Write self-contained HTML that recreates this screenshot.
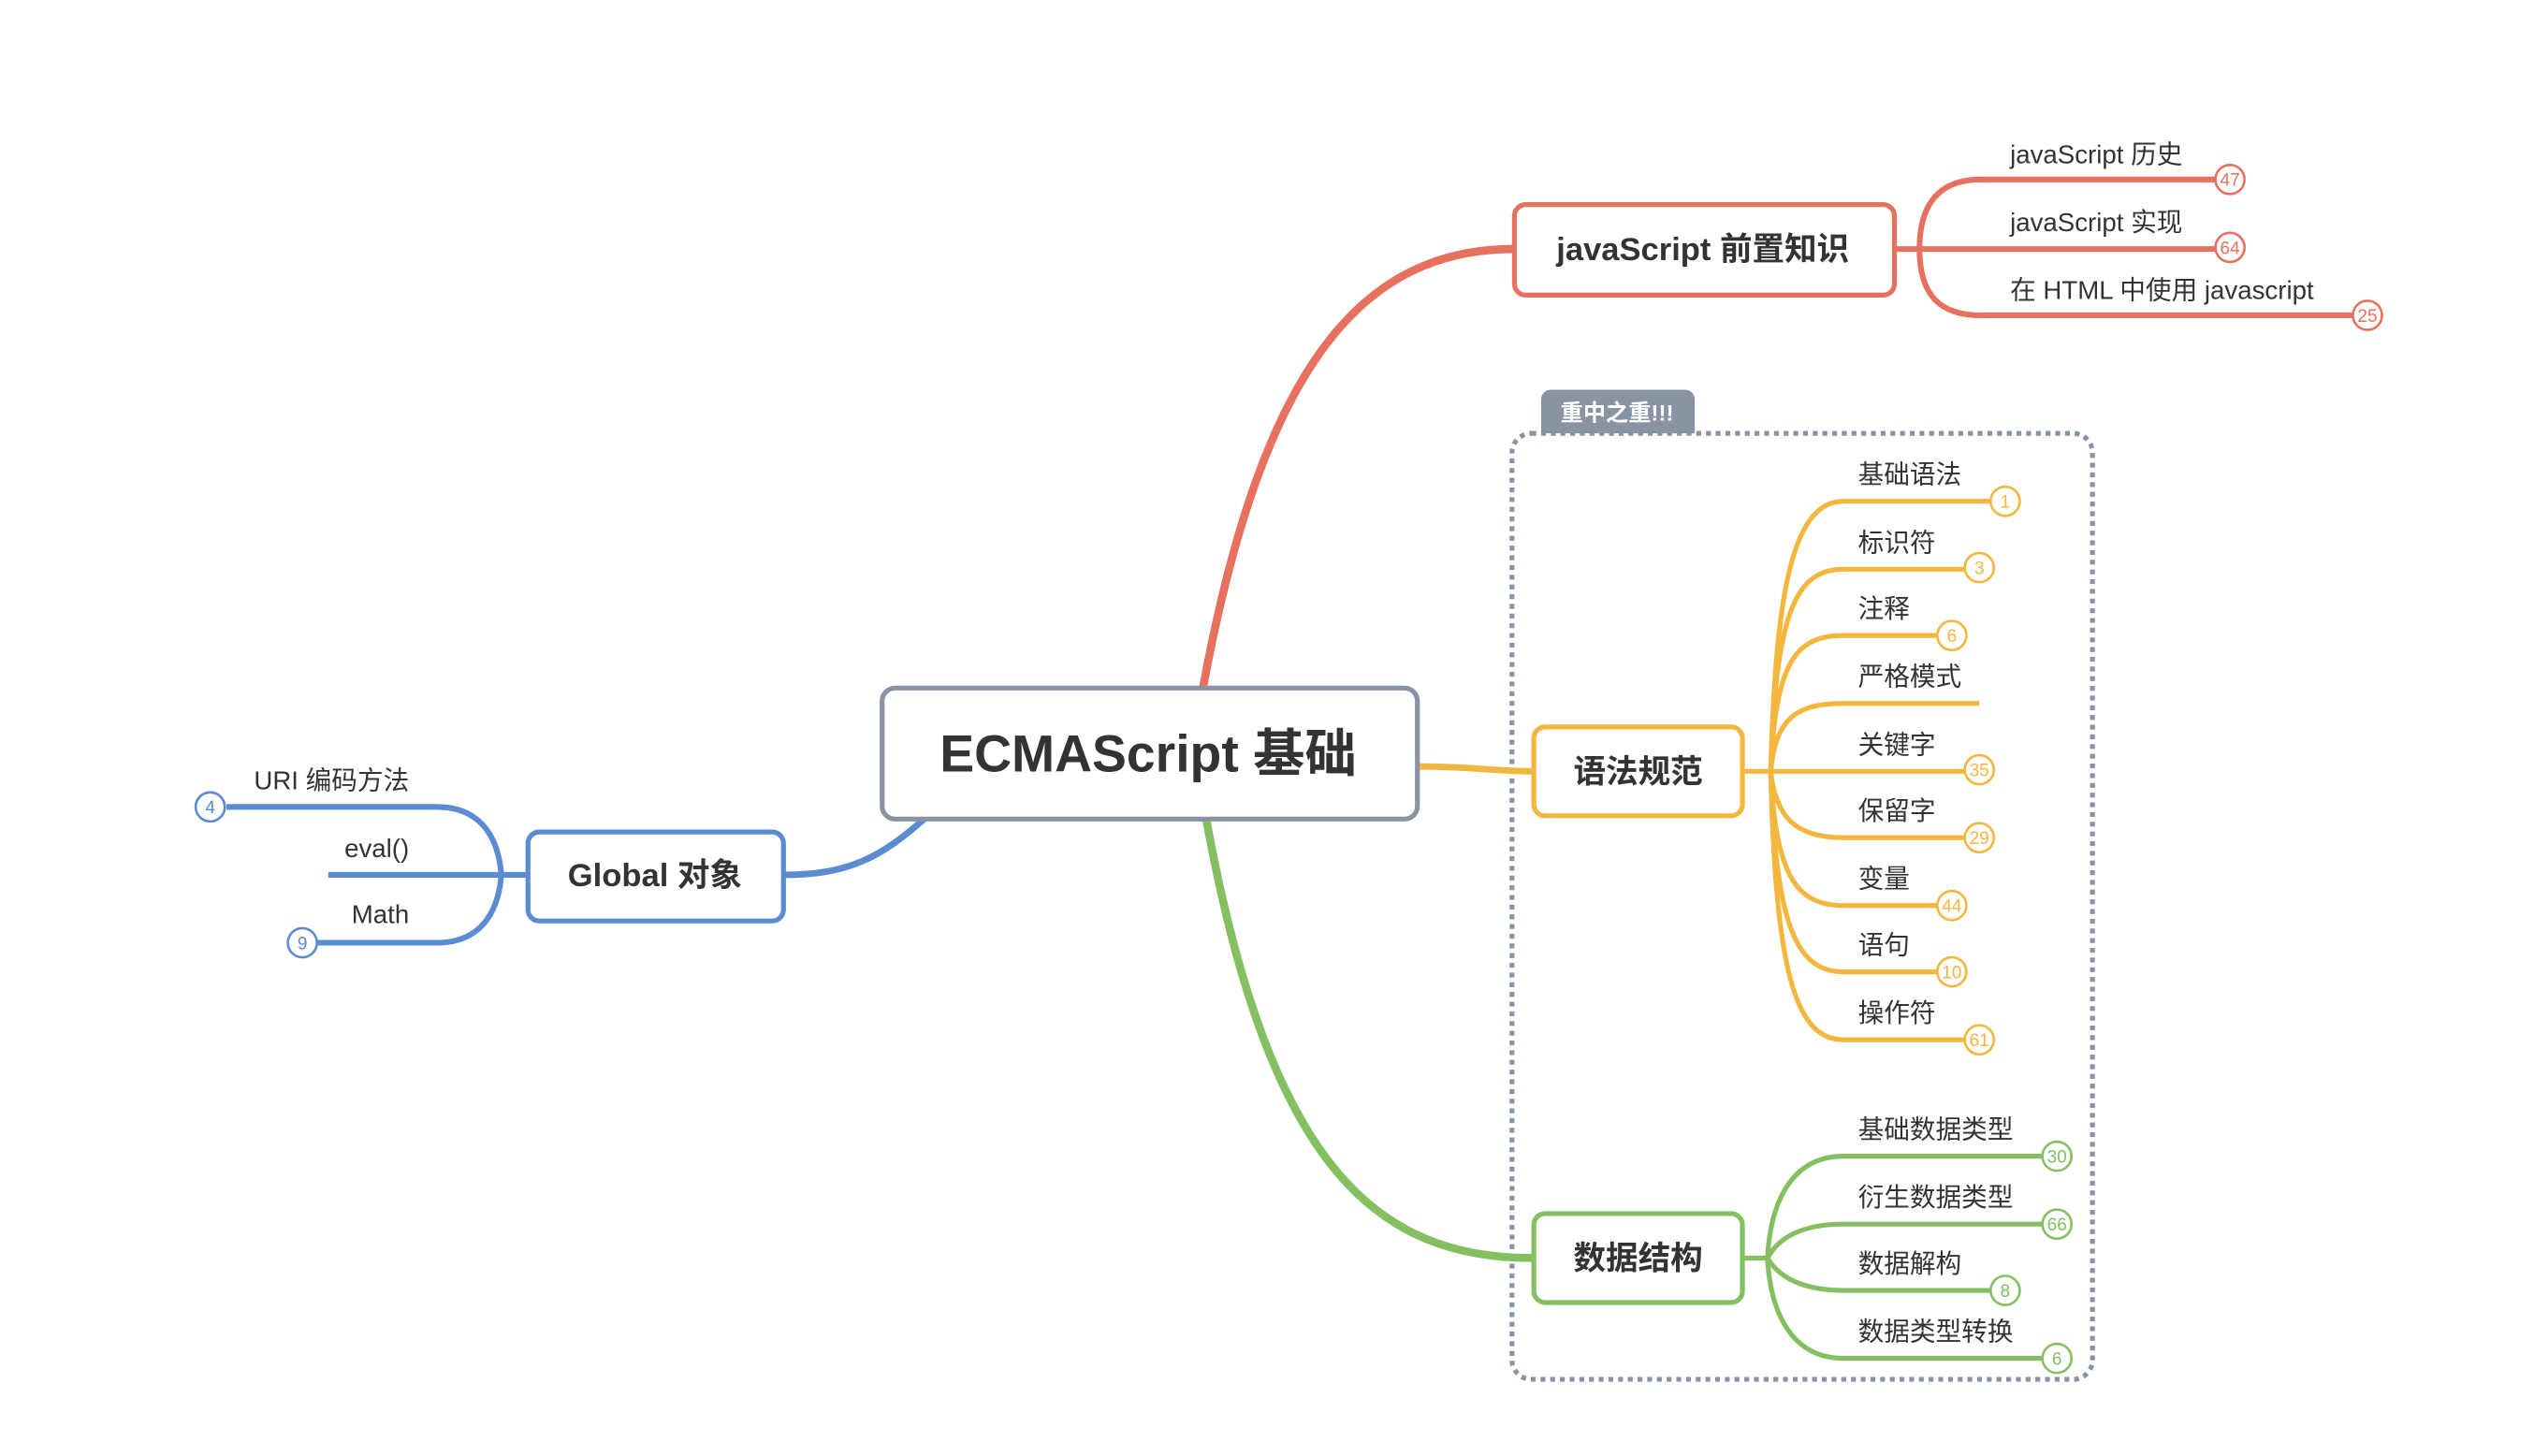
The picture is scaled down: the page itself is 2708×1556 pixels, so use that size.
<!DOCTYPE html>
<html><head><meta charset="utf-8"><style>
html,body{margin:0;padding:0;background:#fff;}
svg{display:block;}
text{font-family:"Liberation Sans","Noto Sans CJK SC",sans-serif;fill:#333;}
.n{font-size:11px;text-anchor:middle;}
.l{font-size:16px;}
</style></head><body>
<svg width="2708" height="1556" viewBox="0 0 1567 900.4" preserveAspectRatio="none" xmlns="http://www.w3.org/2000/svg">
<rect width="1567" height="900.4" fill="#fff"/>
<!-- dotted group -->
<rect x="935" y="268" width="359" height="585" rx="12" fill="none" stroke="#8a93a4" stroke-width="3" stroke-dasharray="3,3"/>
<path d="M953,268 V247 a6,6 0 0 1 6,-6 H1042 a6,6 0 0 1 6,6 V268 Z" fill="#8a93a4"/>
<text x="1000" y="260" style="font-size:14px;font-weight:bold;fill:#fff;text-anchor:middle">重中之重!!!</text>

<!-- main connectors -->
<path d="M744,425 C780,230 840,154 936,154" fill="none" stroke="#e8705f" stroke-width="5"/>
<path d="M877,474 C910,474 925,477 948,477" fill="none" stroke="#f3b73f" stroke-width="4"/>
<path d="M746,507 C785,720 850,778 948,778" fill="none" stroke="#84c062" stroke-width="5"/>
<path d="M572,506 C545,530 525,541 485,541" fill="none" stroke="#5b8bd0" stroke-width="4"/>

<!-- JS branch -->
<g fill="none" stroke="#e8705f" stroke-width="3.5">
<path d="M1172,154 H1187"/>
<path d="M1187,154 C1187,125 1200,111 1225,111 H1370"/>
<path d="M1187,154 H1370"/>
<path d="M1187,154 C1187,183 1200,195 1225,195 H1455"/>
</g>
<g fill="#fff" stroke="#e8705f" stroke-width="1.5">
<circle cx="1379" cy="111" r="9"/><circle cx="1379" cy="153" r="9"/><circle cx="1464" cy="195" r="9"/>
</g>
<text class="n" x="1379" y="115" style="fill:#e8705f">47</text><text class="n" x="1379" y="157" style="fill:#e8705f">64</text><text class="n" x="1464" y="199" style="fill:#e8705f">25</text>
<text class="l" x="1243" y="101">javaScript 历史</text>
<text class="l" x="1243" y="143">javaScript 实现</text>
<text class="l" x="1243" y="185">在 HTML 中使用 javascript</text>

<!-- syntax branch -->
<g fill="none" stroke="#f3b73f" stroke-width="3">
<path d="M1078,477 H1095"/>
<path d="M1095,477 C1098,360 1110,310 1140,310 H1231"/>
<path d="M1095,477 C1098,380 1110,352 1140,352 H1215"/>
<path d="M1095,477 C1098,410 1110,393 1140,393 H1198"/>
<path d="M1095,477 C1098,445 1110,435 1140,435 H1224"/>
<path d="M1095,477 H1215"/>
<path d="M1095,477 C1098,505 1110,518 1140,518 H1215"/>
<path d="M1095,477 C1098,540 1110,560 1140,560 H1198"/>
<path d="M1095,477 C1098,570 1110,601 1140,601 H1198"/>
<path d="M1095,477 C1098,600 1110,643 1140,643 H1215"/>
</g>
<g fill="#fff" stroke="#f3b73f" stroke-width="1.5">
<circle cx="1240" cy="310" r="9"/><circle cx="1224" cy="351" r="9"/><circle cx="1207" cy="393" r="9"/>
<circle cx="1224" cy="476" r="9"/><circle cx="1224" cy="518" r="9"/><circle cx="1207" cy="560" r="9"/>
<circle cx="1207" cy="601" r="9"/><circle cx="1224" cy="643" r="9"/>
</g>
<text class="n" x="1240" y="314" style="fill:#f3b73f">1</text>
<text class="n" x="1224" y="355" style="fill:#f3b73f">3</text>
<text class="n" x="1207" y="397" style="fill:#f3b73f">6</text>
<text class="n" x="1224" y="480" style="fill:#f3b73f">35</text>
<text class="n" x="1224" y="522" style="fill:#f3b73f">29</text>
<text class="n" x="1207" y="564" style="fill:#f3b73f">44</text>
<text class="n" x="1207" y="605" style="fill:#f3b73f">10</text>
<text class="n" x="1224" y="647" style="fill:#f3b73f">61</text>
<text class="l" x="1149" y="299">基础语法</text>
<text class="l" x="1149" y="341">标识符</text>
<text class="l" x="1149" y="382">注释</text>
<text class="l" x="1149" y="424">严格模式</text>
<text class="l" x="1149" y="466">关键字</text>
<text class="l" x="1149" y="507">保留字</text>
<text class="l" x="1149" y="549">变量</text>
<text class="l" x="1149" y="590">语句</text>
<text class="l" x="1149" y="632">操作符</text>

<!-- data branch -->
<g fill="none" stroke="#84c062" stroke-width="3">
<path d="M1078,778 H1093"/>
<path d="M1093,778 C1095,740 1110,715 1140,715 H1263"/>
<path d="M1093,778 C1100,765 1115,757 1140,757 H1263"/>
<path d="M1093,778 C1100,790 1115,798 1140,798 H1231"/>
<path d="M1093,778 C1095,815 1110,840 1140,840 H1263"/>
</g>
<g fill="#fff" stroke="#84c062" stroke-width="1.5">
<circle cx="1272" cy="715" r="9"/><circle cx="1272" cy="757" r="9"/><circle cx="1240" cy="798" r="9"/><circle cx="1272" cy="840" r="9"/>
</g>
<text class="n" x="1272" y="719" style="fill:#84c062">30</text>
<text class="n" x="1272" y="761" style="fill:#84c062">66</text>
<text class="n" x="1240" y="802" style="fill:#84c062">8</text>
<text class="n" x="1272" y="844" style="fill:#84c062">6</text>
<text class="l" x="1149" y="704">基础数据类型</text>
<text class="l" x="1149" y="746">衍生数据类型</text>
<text class="l" x="1149" y="787">数据解构</text>
<text class="l" x="1149" y="829">数据类型转换</text>

<!-- global branch -->
<g fill="none" stroke="#5b8bd0" stroke-width="3.5">
<path d="M326,541 H310"/>
<path d="M310,541 C308,515 295,499 270,499 H140"/>
<path d="M310,541 H203"/>
<path d="M310,541 C308,567 295,583 270,583 H196"/>
</g>
<g fill="#fff" stroke="#5b8bd0" stroke-width="1.5"><circle cx="130" cy="499" r="9"/><circle cx="187" cy="583" r="9"/></g>
<text class="n" x="130" y="503" style="fill:#5b8bd0">4</text>
<text class="n" x="187" y="587" style="fill:#5b8bd0">9</text>
<text class="l" x="253" y="488" style="text-anchor:end">URI 编码方法</text>
<text class="l" x="253" y="530" style="text-anchor:end">eval()</text>
<text class="l" x="253" y="571" style="text-anchor:end">Math</text>

<!-- nodes -->
<rect x="545.5" y="425.5" width="331" height="81" rx="8" fill="#fff" stroke="#8a93a4" stroke-width="3"/>
<text x="710" y="477" style="font-size:32px;font-weight:bold;text-anchor:middle">ECMAScript 基础</text>
<rect x="936.5" y="126.5" width="235" height="56" rx="7" fill="#fff" stroke="#e8705f" stroke-width="3"/>
<text x="1053" y="161" style="font-size:20px;font-weight:bold;text-anchor:middle">javaScript 前置知识</text>
<rect x="948.5" y="449.5" width="129" height="55" rx="7" fill="#fff" stroke="#f3b73f" stroke-width="3"/>
<text x="1013" y="484" style="font-size:20px;font-weight:bold;text-anchor:middle">语法规范</text>
<rect x="948.5" y="750.5" width="129" height="55" rx="7" fill="#fff" stroke="#84c062" stroke-width="3"/>
<text x="1013" y="785" style="font-size:20px;font-weight:bold;text-anchor:middle">数据结构</text>
<rect x="326.5" y="514.5" width="158" height="55" rx="7" fill="#fff" stroke="#5b8bd0" stroke-width="3"/>
<text x="405" y="548" style="font-size:20px;font-weight:bold;text-anchor:middle">Global 对象</text>
</svg>
</body></html>
